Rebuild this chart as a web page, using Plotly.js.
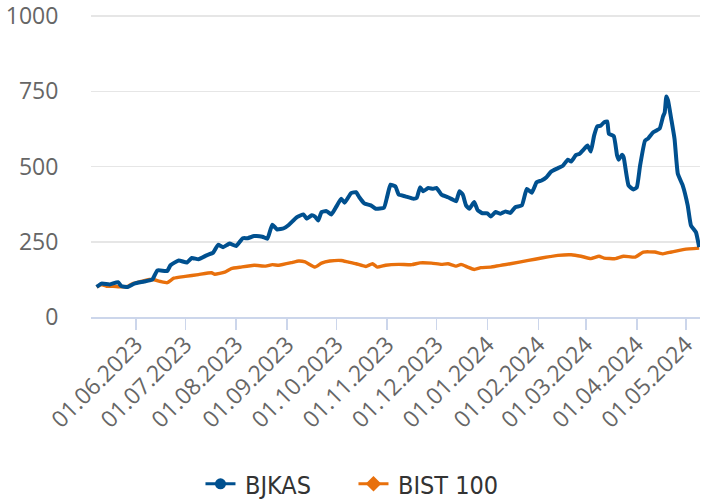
<!DOCTYPE html>
<html>
<head>
<meta charset="utf-8">
<script src="https://cdn.plot.ly/plotly-3.0.1.min.js"></script>
<style>
html,body{margin:0;padding:0;background:#fff;}
#chart{width:701px;height:499px;}
</style>
</head>
<body>
<div id="chart"></div>
<script>
// BJKAS (normalised, start = 100)
const bjkasDates = ['2023-05-08','2023-05-11','2023-05-16','2023-05-21','2023-05-23','2023-05-27','2023-05-31','2023-06-06','2023-06-11','2023-06-14','2023-06-20','2023-06-22','2023-06-27','2023-07-02','2023-07-05','2023-07-09','2023-07-14','2023-07-18','2023-07-21','2023-07-24','2023-07-28','2023-08-01','2023-08-05','2023-08-08','2023-08-12','2023-08-17','2023-08-20','2023-08-23','2023-08-26','2023-08-30','2023-09-02','2023-09-07','2023-09-11','2023-09-13','2023-09-16','2023-09-18','2023-09-20','2023-09-22','2023-09-25','2023-09-28','2023-10-01','2023-10-04','2023-10-06','2023-10-10','2023-10-13','2023-10-15','2023-10-18','2023-10-22','2023-10-25','2023-10-30','2023-11-01','2023-11-03','2023-11-06','2023-11-08','2023-11-12','2023-11-17','2023-11-19','2023-11-21','2023-11-23','2023-11-26','2023-11-29','2023-12-01','2023-12-04','2023-12-08','2023-12-11','2023-12-13','2023-12-15','2023-12-17','2023-12-19','2023-12-21','2023-12-24','2023-12-26','2023-12-29','2024-01-01','2024-01-03','2024-01-06','2024-01-09','2024-01-12','2024-01-15','2024-01-18','2024-01-22','2024-01-25','2024-01-28','2024-01-31','2024-02-03','2024-02-06','2024-02-09','2024-02-13','2024-02-16','2024-02-19','2024-02-21','2024-02-24','2024-02-26','2024-02-29','2024-03-02','2024-03-04','2024-03-06','2024-03-08','2024-03-10','2024-03-12','2024-03-14','2024-03-15','2024-03-18','2024-03-20','2024-03-21','2024-03-23','2024-03-24','2024-03-27','2024-03-30','2024-04-01','2024-04-03','2024-04-06','2024-04-08','2024-04-11','2024-04-13','2024-04-15','2024-04-17','2024-04-18','2024-04-19','2024-04-20','2024-04-22','2024-04-24','2024-04-26','2024-04-29','2024-05-02','2024-05-04','2024-05-07','2024-05-09'];
const bjkasValues = [100,111,108,116,103,100,111,118,125,155,153,172,188,181,196,192,205,214,240,232,244,236,262,262,269,267,260,307,291,295,306,332,341,327,338,334,321,349,352,341,367,393,380,412,415,398,378,371,360,363,401,440,434,407,401,393,396,431,418,429,426,429,407,398,390,385,418,407,371,360,382,356,345,345,334,349,343,351,346,365,371,426,413,448,454,465,484,495,503,523,517,539,542,559,570,550,603,634,636,647,650,609,601,537,523,539,531,437,424,431,503,586,594,614,620,627,667,680,733,720,658,592,476,437,371,304,282,232];

// BIST 100 (normalised, start = 100)
const bistDates = ['2023-05-08','2023-05-11','2023-05-14','2023-05-18','2023-05-23','2023-05-27','2023-05-30','2023-06-04','2023-06-09','2023-06-12','2023-06-16','2023-06-20','2023-06-24','2023-07-01','2023-07-09','2023-07-17','2023-07-19','2023-07-25','2023-07-29','2023-08-04','2023-08-12','2023-08-19','2023-08-23','2023-08-27','2023-09-04','2023-09-08','2023-09-12','2023-09-18','2023-09-22','2023-09-27','2023-10-04','2023-10-08','2023-10-13','2023-10-19','2023-10-23','2023-10-26','2023-10-31','2023-11-08','2023-11-16','2023-11-21','2023-11-28','2023-12-04','2023-12-08','2023-12-13','2023-12-16','2023-12-20','2023-12-24','2023-12-28','2024-01-03','2024-01-15','2024-01-26','2024-02-03','2024-02-13','2024-02-21','2024-02-27','2024-03-04','2024-03-09','2024-03-12','2024-03-19','2024-03-24','2024-03-31','2024-04-05','2024-04-12','2024-04-17','2024-04-22','2024-04-30','2024-05-09'];
const bistValues = [100,108,102,102,100,102,111,118,125,124,118,114,129,135,141,147,142,149,161,166,172,169,174,172,181,186,183,166,179,186,188,183,177,168,177,166,172,175,174,180,179,175,177,169,175,166,158,164,166,177,188,196,205,207,202,194,202,196,194,202,199,216,216,210,216,225,229];

const tickVals = ['2023-06-01','2023-07-01','2023-08-01','2023-09-01','2023-10-01','2023-11-01','2023-12-01','2024-01-01','2024-02-01','2024-03-01','2024-04-01','2024-05-01'];
const tickText = ['01.06.2023','01.07.2023','01.08.2023','01.09.2023','01.10.2023','01.11.2023','01.12.2023','01.01.2024','01.02.2024','01.03.2024','01.04.2024','01.05.2024'];
const yTicks = [0,250,500,750,1000];
const seriesNames = ['BJKAS','BIST 100'];
const seriesColors = ['#00508f','#e8700c'];

const traces = [
  {x: bistDates, y: bistValues, type:'scatter', mode:'lines', name: seriesNames[1],
   line:{color: seriesColors[1], width:3.4, shape:'spline', smoothing:0.4}, showlegend:false, hoverinfo:'skip'},
  {x: bjkasDates, y: bjkasValues, type:'scatter', mode:'lines', name: seriesNames[0],
   line:{color: seriesColors[0], width:4, shape:'spline', smoothing:0.4}, showlegend:false, hoverinfo:'skip'},
  {x:[null], y:[null], type:'scatter', mode:'lines+markers', name: '\u2009' + seriesNames[0],
   line:{color: seriesColors[0], width:3}, marker:{symbol:'circle', size:11, color: seriesColors[0]}},
  {x:[null], y:[null], type:'scatter', mode:'lines+markers', name: '\u2009' + seriesNames[1],
   line:{color: seriesColors[1], width:3}, marker:{symbol:'diamond', size:12, color: seriesColors[1]}}
];

const layout = {
  width:701, height:499,
  margin:{l:91, r:1, t:15, b:182},
  paper_bgcolor:'#ffffff', plot_bgcolor:'#ffffff',
  font:{family:'"Open Sans", "Noto Sans", sans-serif', color:'#666666'},
  xaxis:{
    type:'date',
    range:['2023-05-04 14:00','2024-05-09 12:00'],
    tickvals: tickVals, ticktext: tickText,
    tickangle:-45,
    tickfont:{size:23, color:'#666666'},
    ticks:'outside', ticklen:11, tickwidth:1.5, tickcolor:'#ccd6eb',
    ticklabelstandoff:-8,
    showline:true, linecolor:'#ccd6eb', linewidth:2,
    showgrid:false, zeroline:false, fixedrange:true
  },
  yaxis:{
    range:[0,1004],
    tickvals: yTicks,
    tickfont:{size:23, color:'#666666'},
    ticklabeloverflow:'allow',
    showgrid:true, gridcolor:'#e6e6e6', gridwidth:1.5,
    zeroline:false, showline:false,
    ticks:'outside', ticklen:27, tickcolor:'rgba(0,0,0,0)',
    fixedrange:true
  },
  legend:{
    orientation:'h', xref:'paper', yref:'container',
    x:0.431, xanchor:'center', y:0.03, yanchor:'middle',
    font:{family:'"DejaVu Sans Condensed", "DejaVu Sans", sans-serif', size:25, color:'#333333'},
    itemwidth:30, entrywidth:108, tracegroupgap:0
  },
  showlegend:true
};

Plotly.newPlot('chart', traces, layout, {displayModeBar:false, staticPlot:true});
</script>
</body>
</html>
